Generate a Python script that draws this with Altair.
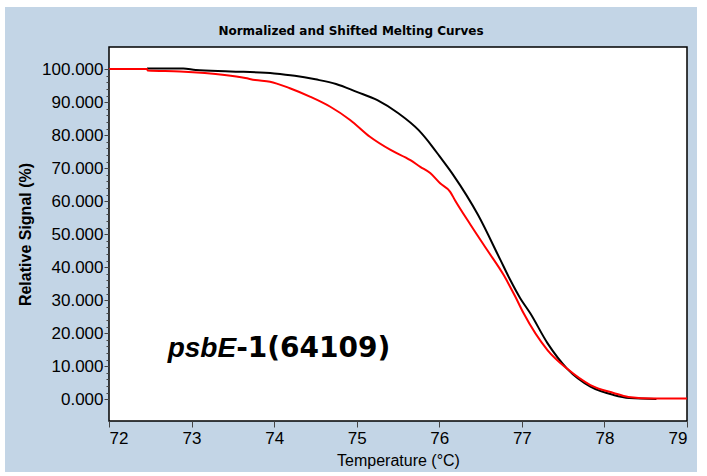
import altair as alt
import pandas as pd

# ---- data ----
black_T = [72.46, 72.9, 73.05, 73.47, 74.0, 74.25, 74.5, 74.75, 75.0, 75.25, 75.5, 75.75,
           75.92, 76.0, 76.17, 76.47, 76.74, 76.86, 76.98, 77.10, 77.31, 77.55, 77.83,
           78.11, 78.3, 78.63]
black_V = [100.2, 100.2, 99.7, 99.3, 98.7, 98.0, 96.9, 95.5, 93.1, 90.6, 86.7, 81.5,
           76.4, 73.7, 67.9, 55.8, 42.2, 36.1, 30.6, 26.1, 17.0, 9.2, 3.8,
           1.3, 0.4, 0.1]

red_T = [72.0, 72.46, 72.47, 72.86, 73.16, 73.4, 73.65, 73.77, 73.95, 74.19, 74.44, 74.68,
         74.92, 75.16, 75.41, 75.65, 75.77, 75.89, 76.01, 76.13, 76.19, 76.38, 76.58,
         76.78, 76.92, 77.02, 77.31, 77.55, 77.83, 78.11, 78.29, 78.6, 79.0]
red_V = [100.0, 100.0, 99.6, 99.3, 98.8, 98.2, 97.3, 96.7, 96.2, 94.2, 91.6, 88.6,
         84.6, 79.5, 75.5, 72.4, 70.4, 68.5, 65.4, 62.9, 60.3, 52.8, 45.2,
         37.6, 31.1, 26.1, 14.9, 9.2, 4.3, 1.9, 0.7, 0.2, 0.2]

x_ticks = [72, 73, 74, 75, 76, 77, 78, 79]
y_ticks = [0, 10, 20, 30, 40, 50, 60, 70, 80, 90, 100]
y_minor = list(range(0, 101, 2))

label_italic = ["psbE"]
label_rest = ["-1(64109)"]
label_T = [73.54]
label_V = [12.8]

BLUE = "#c3d5e6"
W, H = 578, 374

df = pd.concat([
    pd.DataFrame({"T": black_T, "V": black_V, "series": "black"}),
    pd.DataFrame({"T": red_T, "V": red_V, "series": "red"}),
])
lab = pd.DataFrame({"T": label_T, "V": label_V, "a": label_italic, "b": label_rest})
one = pd.DataFrame({"k": [0]})

x_scale = alt.Scale(domain=[72, 79], nice=False, zero=False)
y_scale = alt.Scale(domain=[-6.6, 106.7], nice=False, zero=False)

X = alt.X("T:Q", scale=x_scale, axis=alt.Axis(
    values=x_ticks, format="d", title="Temperature (°C)", labelFontSize=17,
    tickSize=6, labelPadding=3, titleFontSize=16, titleFontWeight="normal",
    titlePadding=6, domain=False, grid=False, zindex=1))

bg = alt.Chart(one).mark_rect(color=BLUE).encode(
    x=alt.value(-104), x2=alt.value(588), y=alt.value(-40), y2=alt.value(425))
plot_bg = alt.Chart(one).mark_rect(fill="white", stroke="black", strokeWidth=1.5).encode(
    x=alt.value(0), x2=alt.value(W), y=alt.value(0), y2=alt.value(H))

lines = alt.Chart(df).mark_line(strokeWidth=2, interpolate="monotone").encode(
    x=X,
    y=alt.Y("V:Q", scale=y_scale, axis=alt.Axis(
        values=y_ticks, format=".3f", title="Relative Signal (%)", labelFontSize=17,
        tickSize=5, labelPadding=1, titleFontSize=16, titleFontWeight="bold",
        titlePadding=8, domain=False, grid=False, zindex=1, orient="left")),
    color=alt.Color("series:N", scale=alt.Scale(domain=["black", "red"],
                                                range=["#000000", "#ff0000"]), legend=None),
)

minor = alt.Chart(df).mark_line(opacity=0).encode(
    x=X,
    y=alt.Y("V:Q", scale=y_scale, axis=alt.Axis(
        values=y_minor, labels=False, title=None, tickSize=3, domain=False,
        grid=False, zindex=1, orient="left")),
)

t1 = alt.Chart(lab).mark_text(font="Liberation Sans", fontSize=28, fontWeight="bold",
                              fontStyle="italic", align="right", baseline="alphabetic",
                              color="black").encode(
    x=X, y=alt.Y("V:Q", scale=y_scale, axis=None), text="a:N")
t2 = alt.Chart(lab).mark_text(font="DejaVu Sans", fontSize=28, fontWeight="bold",
                              align="left", baseline="alphabetic", color="black").encode(
    x=X, y=alt.Y("V:Q", scale=y_scale, axis=None), text="b:N")

chart = alt.layer(bg, plot_bg, lines, minor, t1, t2).resolve_axis(y="independent").properties(
    width=W, height=H,
    title=alt.TitleParams("Normalized and Shifted Melting Curves", fontSize=12,
                          font="DejaVu Sans", fontWeight="bold", anchor="middle",
                          baseline="bottom", offset=-43, dx=-47, zindex=1, color="black"),
    autosize=alt.AutoSizeParams(type="none"),
    padding={"left": 109, "top": 47, "right": 20, "bottom": 55},
    background="white",
).configure_view(stroke=None).configure_axis(
    labelFont="Liberation Sans", titleFont="Liberation Sans", labelColor="black",
    titleColor="black", tickColor="#444444",
)

chart.save("out.html", embed_options={"renderer": "svg", "actions": False})
